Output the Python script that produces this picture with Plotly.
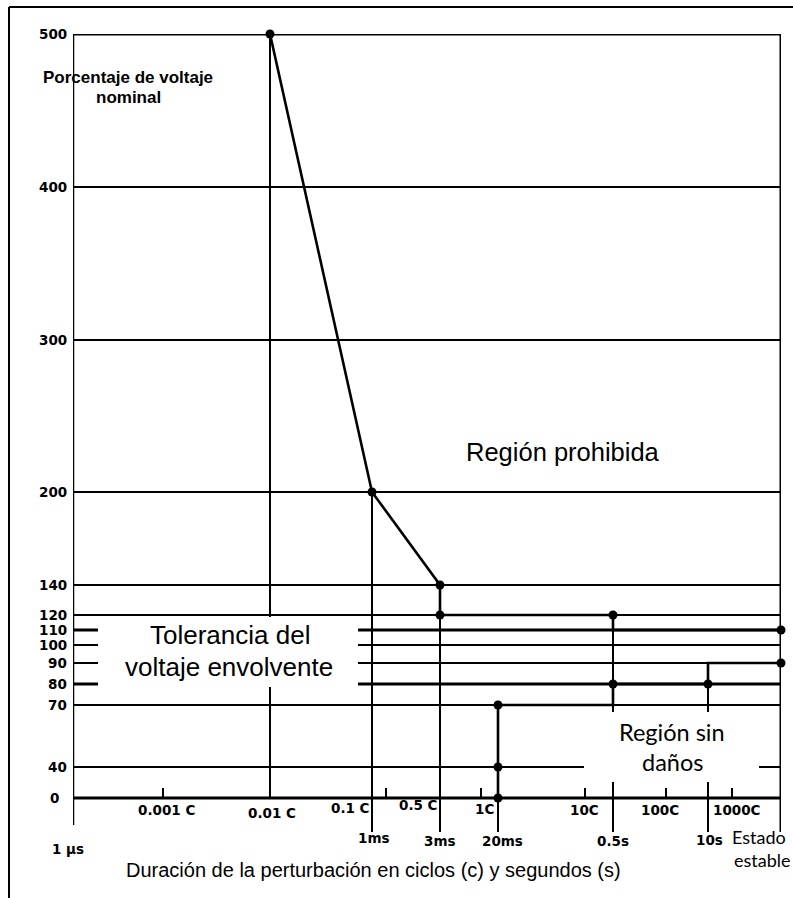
import numpy as np
import plotly.graph_objects as go

# ---------------- data ----------------
C = 1.0 / 60.0  # one cycle (s) at 60 Hz
T_STEADY = 100.0  # "Estado estable"

# upper (overvoltage) envelope: time (s), % nominal voltage
UPPER_T = [0.01 * C, 1e-3, 3e-3, 3e-3, 0.5, 0.5, T_STEADY]
UPPER_V = [500, 200, 140, 120, 120, 110, 110]
# lower (undervoltage) envelope
LOWER_T = [0.02, 0.02, 0.5, 0.5, 10, 10, T_STEADY]
LOWER_V = [0, 70, 70, 80, 80, 90, 90]
# marked points
DOT_T = [0.01 * C, 1e-3, 3e-3, 3e-3, 0.5, T_STEADY, T_STEADY, 10, 0.5, 0.02, 0.02, 0.02]
DOT_V = [500, 200, 140, 120, 120, 110, 90, 80, 80, 70, 40, 0]

# y tick labels (% nominal)
Y_TICKS = [0, 40, 70, 80, 90, 100, 110, 120, 140, 200, 300, 400, 500]
Y_TICK_TEXT = ["0", "40", "70", "80", "90", "100", "110", "120", "140", "200", "300", "400", "500"]
GRID_V = [40, 70, 80, 90, 100, 110, 120, 140, 200, 300, 400]

# cycle ticks / labels
CYC_TICK_T = [0.001 * C, 0.1 * C, 1 * C, 10 * C, 100 * C, 1000 * C]
CYC_LABEL_T = [0.001 * C, 0.01 * C, 0.1 * C, 0.5 * C, 1 * C, 10 * C, 100 * C, 1000 * C]
CYC_LABEL_TEXT = ["0.001 C", "0.01 C", "0.1 C", "0.5 C", "1C", "10C", "100C", "1000C"]

# time reference lines and labels
TIME_T = [1e-6, 1e-3, 3e-3, 0.02, 0.5, 10]
TIME_TEXT = ["1 µs", "1ms", "3ms", "20ms", "0.5s", "10s"]
VLINE_T = [0.01 * C, 1e-3, 3e-3, 0.02, 0.5, 10]
VLINE_TOP_V = [500, 200, 140, 70, 120, 90]

# ---------------- axis scales (hand-drawn, non-uniform) ----------------
X_BREAK_T = [1e-6, 0.001 * C, 0.01 * C, 1e-3, 0.1 * C, 3e-3, C, 0.02, 10 * C, 0.5, 100 * C, 10, 1000 * C, T_STEADY]
X_BREAK_POS = [0, 90, 197, 299, 313, 367, 408, 425, 512, 540, 593, 635, 659, 708]
Y_BREAK_V = [0, 40, 70, 80, 90, 100, 110, 120, 140, 200, 300, 400, 500]
Y_BREAK_POS = [0, 31, 93, 114, 135, 153, 168, 183, 213, 306, 458, 611, 764]


def xs(t):
    return np.interp(np.log10(np.asarray(t, dtype=float)), np.log10(X_BREAK_T), X_BREAK_POS)


def ys(v):
    return np.interp(np.asarray(v, dtype=float), Y_BREAK_V, Y_BREAK_POS)


W, H = 793, 898
ML, MR, MT, MB = 73, 12, 34, 0
XR = [0, 708]
YR = [-100, 764]
X0, X1 = float(xs(1e-6)), float(xs(T_STEADY))
Y0, Y1 = float(ys(0)), float(ys(500))
BELOW = -34  # how far the reference lines run under the axis

fig = go.Figure()

shapes = []


def hline(y, x0, x1, w=2):
    shapes.append(dict(type="line", xref="x", yref="y", x0=x0, x1=x1, y0=y, y1=y,
                       line=dict(color="black", width=w), layer="below"))


def vline(x, y0, y1, w=2):
    shapes.append(dict(type="line", xref="x", yref="y", x0=x, x1=x, y0=y0, y1=y1,
                       line=dict(color="black", width=w), layer="below"))


# gridlines
for v in GRID_V:
    hline(float(ys(v)), X0, X1, 3 if v in (110, 80) else 1.9)

# vertical reference lines
for t, vt in zip(VLINE_T, VLINE_TOP_V):
    bottom = Y0 if t == VLINE_T[0] else BELOW
    vline(float(xs(t)), float(ys(vt)), bottom, 2)

# cycle ticks
for t in CYC_TICK_T:
    vline(float(xs(t)), Y0, Y0 + 10, 2)

# white boxes behind region labels
shapes.append(dict(type="rect", xref="x", yref="y", x0=25, x1=285, y0=111, y1=181,
                   fillcolor="white", line=dict(width=0), layer="below"))
shapes.append(dict(type="rect", xref="x", yref="y", x0=511, x1=686, y0=16, y1=86,
                   fillcolor="white", line=dict(width=0), layer="below"))

# frame of plot
hline(Y1, X0, X1, 3)            # 500 line (top)
hline(Y0, X0 - 8, X1, 3)        # 0 axis
vline(X1, Y1, BELOW, 3)         # right edge
vline(X0, Y1, -27, 2.5)         # left axis

# outer page frame (paper coords)
pw, ph = W - ML - MR, H - MT - MB


def px_x(p):
    return (p - ML) / pw


def px_y(p):
    return (H - MB - p) / ph


shapes.append(dict(type="line", xref="paper", yref="paper", x0=px_x(9), x1=px_x(793),
                   y0=px_y(7), y1=px_y(7), line=dict(color="black", width=2)))
shapes.append(dict(type="line", xref="paper", yref="paper", x0=px_x(9), x1=px_x(9),
                   y0=px_y(7), y1=px_y(898), line=dict(color="black", width=2)))

# curves
fig.add_trace(go.Scatter(x=xs(UPPER_T), y=ys(UPPER_V), mode="lines",
                         line=dict(color="black", width=2.6), cliponaxis=False,
                         hoverinfo="skip", showlegend=False))
fig.add_trace(go.Scatter(x=xs(LOWER_T), y=ys(LOWER_V), mode="lines",
                         line=dict(color="black", width=2.6), cliponaxis=False,
                         hoverinfo="skip", showlegend=False))
fig.add_trace(go.Scatter(x=xs(DOT_T), y=ys(DOT_V), mode="markers",
                         marker=dict(color="black", size=9), cliponaxis=False,
                         hoverinfo="skip", showlegend=False))

ann = []
HEAVY = "DejaVu Sans, Verdana, sans-serif"
BOLD = "Liberation Sans, Arial, sans-serif"
SANS = "Liberation Sans, Arial, sans-serif"

# y tick labels
for v, txt in zip(Y_TICKS, Y_TICK_TEXT):
    ann.append(dict(x=X0, y=float(ys(v)), xref="x", yref="y", text="<b>%s</b>" % txt,
                    showarrow=False, xanchor="right", yanchor="middle",
                    xshift=-12 if v == 0 else -4,
                    font=dict(family=HEAVY, size=13.5, color="black")))

# cycle labels
CYC_DX = [3, 2, -36, -46, 3, -1, -6, 5]
CYC_DY = [-12, -15, -10, -7, -11, -12, -12, -12]
for t, txt, dx, dy in zip(CYC_LABEL_T, CYC_LABEL_TEXT, CYC_DX, CYC_DY):
    ann.append(dict(x=float(xs(t)), y=Y0, xref="x", yref="y", text="<b>%s</b>" % txt,
                    showarrow=False, xanchor="center", yanchor="middle",
                    xshift=dx, yshift=dy,
                    font=dict(family=HEAVY, size=13.5, color="black")))

# time labels
TIME_DX = [-5, 2, 0, 4, 0, 1]
TIME_DY = [-51, -40, -43, -43, -43, -42]
for t, txt, dx, dy in zip(TIME_T, TIME_TEXT, TIME_DX, TIME_DY):
    ann.append(dict(x=float(xs(t)), y=Y0, xref="x", yref="y", text="<b>%s</b>" % txt,
                    showarrow=False, xanchor="center", yanchor="middle",
                    xshift=dx, yshift=dy,
                    font=dict(family=HEAVY, size=13.5, color="black")))

# Estado estable
ann.append(dict(x=X1, y=Y0, xref="x", yref="y", text="Estado", showarrow=False,
                xanchor="center", yanchor="middle", xshift=-22, yshift=-39,
                font=dict(family="Lato, sans-serif", size=18, color="black")))
ann.append(dict(x=X1, y=Y0, xref="x", yref="y", text="estable", showarrow=False,
                xanchor="center", yanchor="middle", xshift=-19, yshift=-62,
                font=dict(family="Lato, sans-serif", size=18, color="black")))

# axis titles
ann.append(dict(x=300, y=-72, xref="x", yref="y",
                text="Duración de la perturbación en ciclos (c) y segundos (s)",
                showarrow=False, xanchor="center", yanchor="middle",
                font=dict(family=SANS, size=20, color="black")))
ann.append(dict(x=55, y=721, xref="x", yref="y", text="<b>Porcentaje de voltaje</b>",
                showarrow=False, xanchor="center", yanchor="middle",
                font=dict(family=BOLD, size=17, color="black")))
ann.append(dict(x=55, y=701, xref="x", yref="y", text="<b>nominal</b>",
                showarrow=False, xanchor="center", yanchor="middle",
                font=dict(family=BOLD, size=17, color="black")))

# region labels
ann.append(dict(x=490, y=346, xref="x", yref="y", text="Región prohibida", showarrow=False,
                xanchor="center", yanchor="middle",
                font=dict(family=SANS, size=25.5, color="black")))
ann.append(dict(x=157, y=163, xref="x", yref="y", text="Tolerancia del", showarrow=False,
                xanchor="center", yanchor="middle",
                font=dict(family=SANS, size=26, color="black")))
ann.append(dict(x=156, y=131, xref="x", yref="y", text="voltaje envolvente", showarrow=False,
                xanchor="center", yanchor="middle",
                font=dict(family=SANS, size=26, color="black")))
ann.append(dict(x=599, y=66, xref="x", yref="y", text="Región sin", showarrow=False,
                xanchor="center", yanchor="middle",
                font=dict(family="Lato, sans-serif", size=23.5, color="black")))
ann.append(dict(x=599, y=36, xref="x", yref="y", text="daños", showarrow=False,
                xanchor="center", yanchor="middle",
                font=dict(family="Lato, sans-serif", size=23.5, color="black")))

fig.update_layout(
    width=W, height=H,
    margin=dict(l=ML, r=MR, t=MT, b=MB, pad=0),
    paper_bgcolor="white", plot_bgcolor="white",
    xaxis=dict(range=XR, visible=False, fixedrange=True),
    yaxis=dict(range=YR, visible=False, fixedrange=True),
    shapes=shapes, annotations=ann, showlegend=False,
)

fig.write_html(
    "out.html",
    config={"displayModeBar": False},
    post_script="document.body.style.margin='0';document.body.style.overflow='hidden';",
)
